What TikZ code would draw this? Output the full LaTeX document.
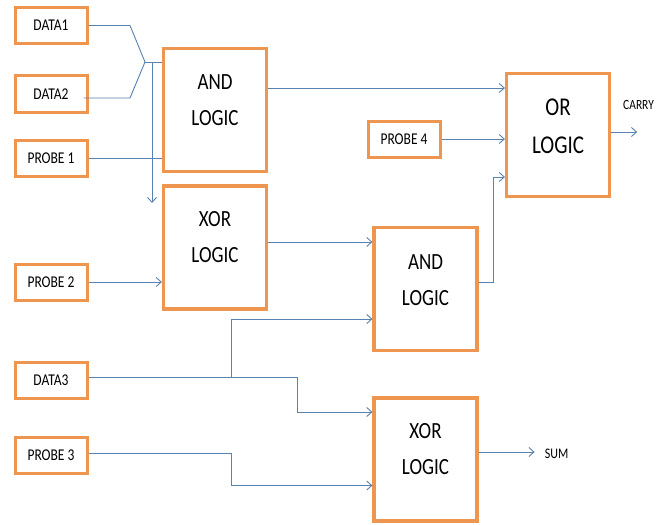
\documentclass[tikz,border=0pt]{standalone}
\usepackage{fontspec}
\setmainfont{Carlito}
\usetikzlibrary{arrows.meta,calc}
\definecolor{boxor}{RGB}{238,150,80}
\definecolor{wire}{RGB}{88,130,175}
\newcommand{\vst}[1]{\scalebox{1}[1.22]{#1}}
\tikzset{
  smallbox/.style={draw=boxor,line width=3pt,fill=white,minimum width=72pt,minimum height=36pt,inner sep=0pt,font=\fontsize{13.5}{15}\selectfont},
  bigbox/.style={draw=boxor,line width=3.2pt,fill=white,minimum width=103pt,minimum height=123pt,inner sep=0pt},
  bigtext/.style={align=center,font=\fontsize{19}{36}\selectfont,inner sep=0pt},
  wireline/.style={draw=wire,line width=0.9pt},
  arr/.style={wireline,-{Straight Barb[length=5pt,width=9pt,line width=0.9pt]}},
  lbl/.style={font=\fontsize{12}{14}\selectfont,inner sep=0pt}
}
\begin{document}
\begin{tikzpicture}[x=1pt,y=-1pt]
\fill[white] (0,0) rectangle (668,524);
\useasboundingbox (0,0) rectangle (668,524);
% input boxes
\node[smallbox] (d1) at (51,25.5) {\vst{DATA1}};
\node[smallbox] (d2) at (51,94) {\vst{DATA2}};
\node[smallbox] (p1) at (51,158.5) {\vst{PROBE 1}};
\node[smallbox] (p2) at (51,282) {\vst{PROBE 2}};
\node[smallbox] (d3) at (51,380.5) {\vst{DATA3}};
\node[smallbox] (p3) at (51,455.5) {\vst{PROBE 3}};
\node[smallbox] (p4) at (404,139) {\vst{PROBE 4}};
% logic boxes
\node[bigbox] (and1) at (215,110) {};
\node[bigbox] (xor1) at (215,247.5) {};
\node[bigbox] (and2) at (425.5,289) {};
\node[bigbox] (xor2) at (425.5,459.5) {};
\node[bigbox] (orb) at (558,135) {};
\node[bigtext] (and1t) at ([yshift=10pt]and1.center) {\vst{AND}\\\vst{LOGIC}};
\node[bigtext] (xor1t) at ([yshift=10pt]xor1.center) {\vst{XOR}\\\vst{LOGIC}};
\node[bigtext] (and2t) at ([yshift=9pt]and2.center) {\vst{AND}\\\vst{LOGIC}};
\node[bigtext] (xor2t) at ([yshift=10pt]xor2.center) {\vst{XOR}\\\vst{LOGIC}};
\node[bigtext,font=\fontsize{21}{38}\selectfont] (ort) at ([yshift=9pt]orb.center) {\vst{OR}\\\vst{LOGIC}};
% junction of DATA1/DATA2
\coordinate (j) at (145,62);
\coordinate (v) at (152,62);
\coordinate (vend) at (152,203);
\draw[wireline] (d1.east) -- (130,25.5) -- (j);
\draw[wireline] ([xshift=-5pt,yshift=-4pt]d2.east) -- (130,98) -- (j);
\draw[wireline] (j) -- (and1.west |- j);
\draw[arr] (v) -- (vend);
\draw[wireline] (p1.east) -- (and1.west |- p1.east);
\draw[arr] (p2.east) -- (xor1.west |- p2.east);
% to OR
\draw[arr] ([yshift=22pt]and1.east) coordinate (a1) -- (a1 -| orb.west);
\draw[arr] (p4.east) -- (orb.west |- p4.east);
\draw[arr] ([yshift=7pt]and2.east) -- ++(15,0) |- ([yshift=-42pt]orb.west);
\draw[arr] ([yshift=5.5pt]xor1.east) coordinate (x1) -- (x1 -| and2.west);
% DATA3 and PROBE 3
\coordinate (b) at (231,377);
\draw[arr] ([yshift=3.5pt]d3.east) -- (297,377) |- ([yshift=47.5pt]xor2.west);
\draw[arr] (b) |- ([yshift=-30pt]and2.west);
\draw[arr] ([yshift=2.5pt]p3.east) -- (231,453) |- ([yshift=-26pt]xor2.west);
% outputs
\draw[arr] ([yshift=7.5pt]xor2.east) -- ++(56,0) coordinate (sumend);
\node[lbl,anchor=west] (sum) at ([xshift=10pt,yshift=-2pt]sumend) {\vst{SUM}};
\draw[arr] ([yshift=3pt]orb.east) -- ++(26,0) coordinate (carend);
\node[lbl,anchor=west,font=\fontsize{11.5}{13}\selectfont] (carry) at (623,105) {\vst{CARRY}};
\end{tikzpicture}
\end{document}
